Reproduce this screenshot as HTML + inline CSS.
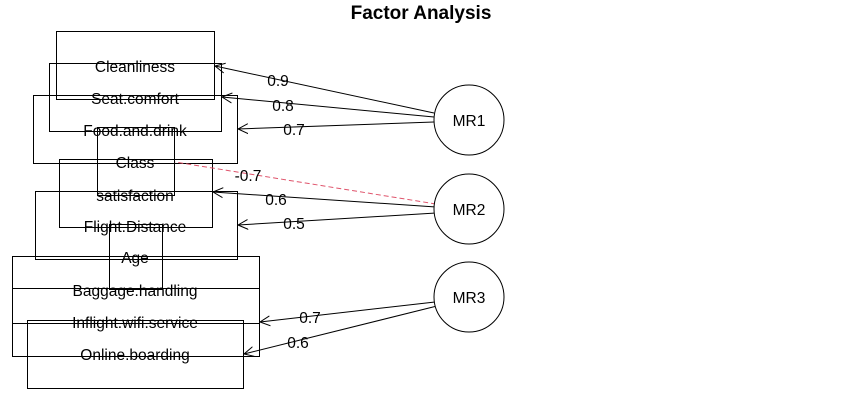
<!DOCTYPE html>
<html><head><meta charset="utf-8"><style>
html,body{margin:0;padding:0;background:#fff;}
svg{display:block;font-family:"Liberation Sans",Arial,sans-serif;}
</style></head><body>
<svg width="844" height="410" viewBox="0 0 844 410" xmlns="http://www.w3.org/2000/svg">
<defs>
<marker id="a" markerWidth="12" markerHeight="12" refX="10" refY="6" orient="auto" markerUnits="userSpaceOnUse">
<path d="M0,1 L10,6 L0,11" fill="none" stroke="#000" stroke-width="1"/>
</marker>
<marker id="ar" markerWidth="12" markerHeight="12" refX="10" refY="6" orient="auto" markerUnits="userSpaceOnUse">
<path d="M0,1 L10,6 L0,11" fill="none" stroke="#DF536B" stroke-width="1"/>
</marker>
</defs>
<text x="421" y="19" font-size="19" font-weight="bold" text-anchor="middle">Factor Analysis</text>
<g fill="none" stroke="#000" stroke-width="1">
<rect x="56.5" y="31.5" width="158" height="68"/>
<rect x="49.5" y="63.5" width="172" height="68"/>
<rect x="33.5" y="95.5" width="204" height="68"/>
<rect x="97.5" y="127.5" width="77" height="68"/>
<rect x="59.5" y="159.5" width="153" height="68"/>
<rect x="35.5" y="191.5" width="202" height="68"/>
<rect x="109.5" y="224.5" width="53" height="65"/>
<rect x="12.5" y="256.5" width="247" height="67"/>
<rect x="12.5" y="288.5" width="247" height="68"/>
<rect x="27.5" y="320.5" width="216" height="68"/>
</g>
<g font-size="15.5" text-anchor="middle">
<text x="135" y="72">Cleanliness</text>
<text x="135" y="104">Seat.comfort</text>
<text x="135" y="136">Food.and.drink</text>
<text x="135" y="168">Class</text>
<text x="135" y="201">satisfaction</text>
<text x="135" y="232">Flight.Distance</text>
<text x="135" y="263">Age</text>
<text x="135" y="296">Baggage.handling</text>
<text x="135" y="328">Inflight.wifi.service</text>
<text x="135" y="360">Online.boarding</text>
</g>
<g stroke="#000" stroke-width="1" fill="none">
<line x1="434" y1="113" x2="215" y2="66" marker-end="url(#a)"/>
<line x1="434" y1="117" x2="222" y2="97" marker-end="url(#a)"/>
<line x1="434" y1="122" x2="238" y2="129" marker-end="url(#a)"/>
<line x1="436" y1="207" x2="213" y2="192" marker-end="url(#a)"/>
<line x1="436" y1="213" x2="238" y2="225" marker-end="url(#a)"/>
<line x1="435" y1="302" x2="260" y2="322" marker-end="url(#a)"/>
<line x1="437" y1="306" x2="244" y2="354" marker-end="url(#a)"/>
<line x1="436" y1="204" x2="175" y2="162" stroke="#DF536B" stroke-dasharray="5,3"/>
<circle cx="469" cy="120" r="35" fill="#fff"/>
<circle cx="469" cy="209" r="35" fill="#fff"/>
<circle cx="469" cy="297" r="35" fill="#fff"/>
</g>
<g font-size="15.5" text-anchor="middle">
<text x="469" y="126">MR1</text>
<text x="469" y="215">MR2</text>
<text x="469" y="303">MR3</text>
<text x="278" y="86">0.9</text>
<text x="283" y="111">0.8</text>
<text x="294" y="135">0.7</text>
<text x="248" y="181">-0.7</text>
<text x="276" y="205">0.6</text>
<text x="294" y="229">0.5</text>
<text x="310" y="323">0.7</text>
<text x="298" y="348">0.6</text>
</g>
</svg>
</body></html>
